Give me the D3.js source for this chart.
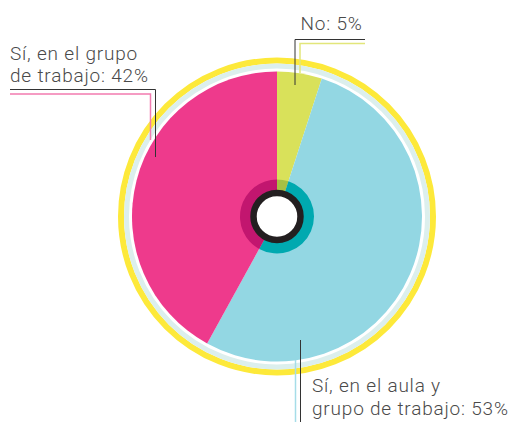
<!DOCTYPE html>
<html><head><meta charset="utf-8">
<script src="https://cdn.jsdelivr.net/npm/d3@7"></script>
<style>body{margin:0;background:#fff}svg{display:block}text{font-family:Roboto,"Noto Sans",sans-serif;font-weight:300;fill:#4a4a4a}</style>
</head><body>
<script>
const categories = ["No", "Sí, en el aula y grupo de trabajo", "Sí, en el grupo de trabajo"];
const values = [5, 53, 42];
const labelLines = [["No: 5%"], ["Sí, en el aula y", "grupo de trabajo: 53%"], ["Sí, en el grupo", "de trabajo: 42%"]];
const sliceColors = ["#d9e15a", "#93d7e3", "#ee3a8c"];
const innerColors = ["#a7c043", "#00a9b0", "#c2166f"];

const W = 517, H = 422, cx = 277, cy = 216.5;
const svg = d3.select("body").append("svg").attr("width", W).attr("height", H);
const g = svg.append("g").attr("transform", `translate(${cx},${cy})`);

// outer rings
g.append("circle").attr("r", 156).attr("fill", "none").attr("stroke", "#fde93a").attr("stroke-width", 6);
g.append("circle").attr("r", 150.5).attr("fill", "none").attr("stroke", "#dcefed").attr("stroke-width", 5);

const pie = d3.pie().sort(null).value(d => d)(values);
const arc = d3.arc().innerRadius(0).outerRadius(145);
g.selectAll("path.slice").data(pie).join("path").attr("class", "slice")
  .attr("d", arc).attr("fill", (d, i) => sliceColors[i]);

const arcIn = d3.arc().innerRadius(26).outerRadius(37);
g.selectAll("path.inner").data(pie).join("path").attr("class", "inner")
  .attr("d", arcIn).attr("fill", (d, i) => innerColors[i]);
g.append("circle").attr("r", 23.5).attr("fill", "#fff").attr("stroke", "#231f20").attr("stroke-width", 6.5);

// leader lines
const dark = "#333";
function pl(points, color, w) {
  svg.append("path").attr("d", d3.line()(points)).attr("fill", "none").attr("stroke", color).attr("stroke-width", w);
}
// No
pl([[365, 39.5], [295, 39.5], [295, 85]], dark, 1);
pl([[365, 43.5], [300, 43.5], [300, 73]], "#e2e67a", 1.5);
// 42%
pl([[10, 89.5], [155.5, 89.5], [155.5, 157]], dark, 1);
pl([[10, 94], [150.5, 94], [150.5, 140]], "#f27bb0", 1.5);
// 53%
pl([[300.5, 340], [300.5, 422]], dark, 1);
pl([[295.5, 360], [295.5, 422]], "#a6dde8", 1.5);

function label(lines, x, y, lh) {
  lines.forEach((s, i) => svg.append("text").attr("x", x).attr("y", y + i * lh)
    .style("font-size", "19px").style("letter-spacing", "0.8px").text(s));
}
label(labelLines[0], 300.5, 29.5, 0);
label(labelLines[2], 10, 59.5, 22.5);
label(labelLines[1], 312, 392, 22.5);
</script>
</body></html>
